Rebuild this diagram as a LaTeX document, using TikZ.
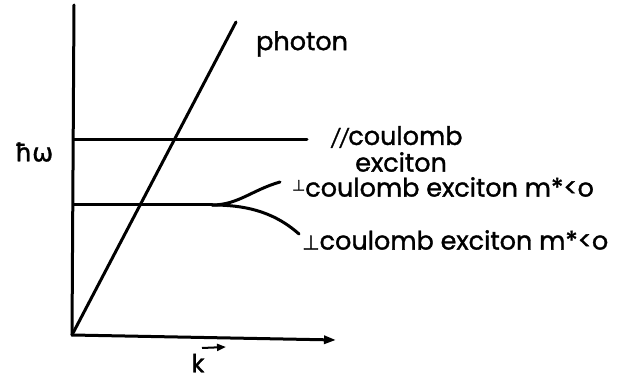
\documentclass[tikz,border=0pt]{standalone}
\usepackage{fontspec}
\setmainfont{Poppins}[FakeBold=1.3]
\newfontfamily\dejavu{DejaVu Sans}[FakeBold=1.3]
\usetikzlibrary{arrows.meta}
\begin{document}
\begin{tikzpicture}[x=1pt,y=-1pt,
  line/.style={line width=3pt,line cap=round},
  lab/.style={font=\fontsize{25.5}{26}\selectfont,inner sep=0pt,anchor=west}]
\useasboundingbox (0,0) rectangle (619,382);
\coordinate (O) at (72,335);
\coordinate (ytop) at (74,5);
\coordinate (xend) at (336,340);
\coordinate (ptop) at (236,22);
\coordinate (u0) at (74,140);
\coordinate (u1) at (307,140);
\coordinate (l0) at (74,205);
\coordinate (ls) at (212,205);
\coordinate (lu) at (280,182);
\coordinate (ld) at (299,234);
\draw[line] (O) -- (ytop);
\draw[line,-{Triangle[length=12pt,width=8pt]}] (O) -- (xend);
\draw[line] (O) -- (ptop);
\draw[line] (u0) -- (u1);
\draw[line] (l0) -- (ls);
\draw[line] (ls) .. controls (238,205) and (252,190) .. (lu);
\draw[line] (ls) .. controls (242,205) and (272,210) .. (ld);
\node[lab] (photon) at (256,44) {photon};
\node[font=\dejavu\fontsize{25}{25}\selectfont,inner sep=0pt] (hw) at (34,152) {ħω};
\node[lab] (par) at (331,137) {{\fontsize{18}{18}\selectfont\itshape //}coulomb};
\node[lab] (exc) at (355,162) {exciton};
\node[lab] (perp1) at (292,187) {\raisebox{6pt}{\dejavu\fontsize{15}{15}\selectfont ⊥}coulomb exciton m*<o};
\node[lab] (perp2) at (302,240) {{\dejavu\fontsize{20}{20}\selectfont ⊥}coulomb exciton m*<o};
\node[font=\fontsize{25}{26}\selectfont,inner sep=0pt] (k) at (198,363) {k};
\coordinate (ka) at (202,348);
\coordinate (kb) at (226,347);
\draw[line width=2pt,-{Triangle[length=9pt,width=7pt]}] (ka) -- (kb);
\end{tikzpicture}
\end{document}
